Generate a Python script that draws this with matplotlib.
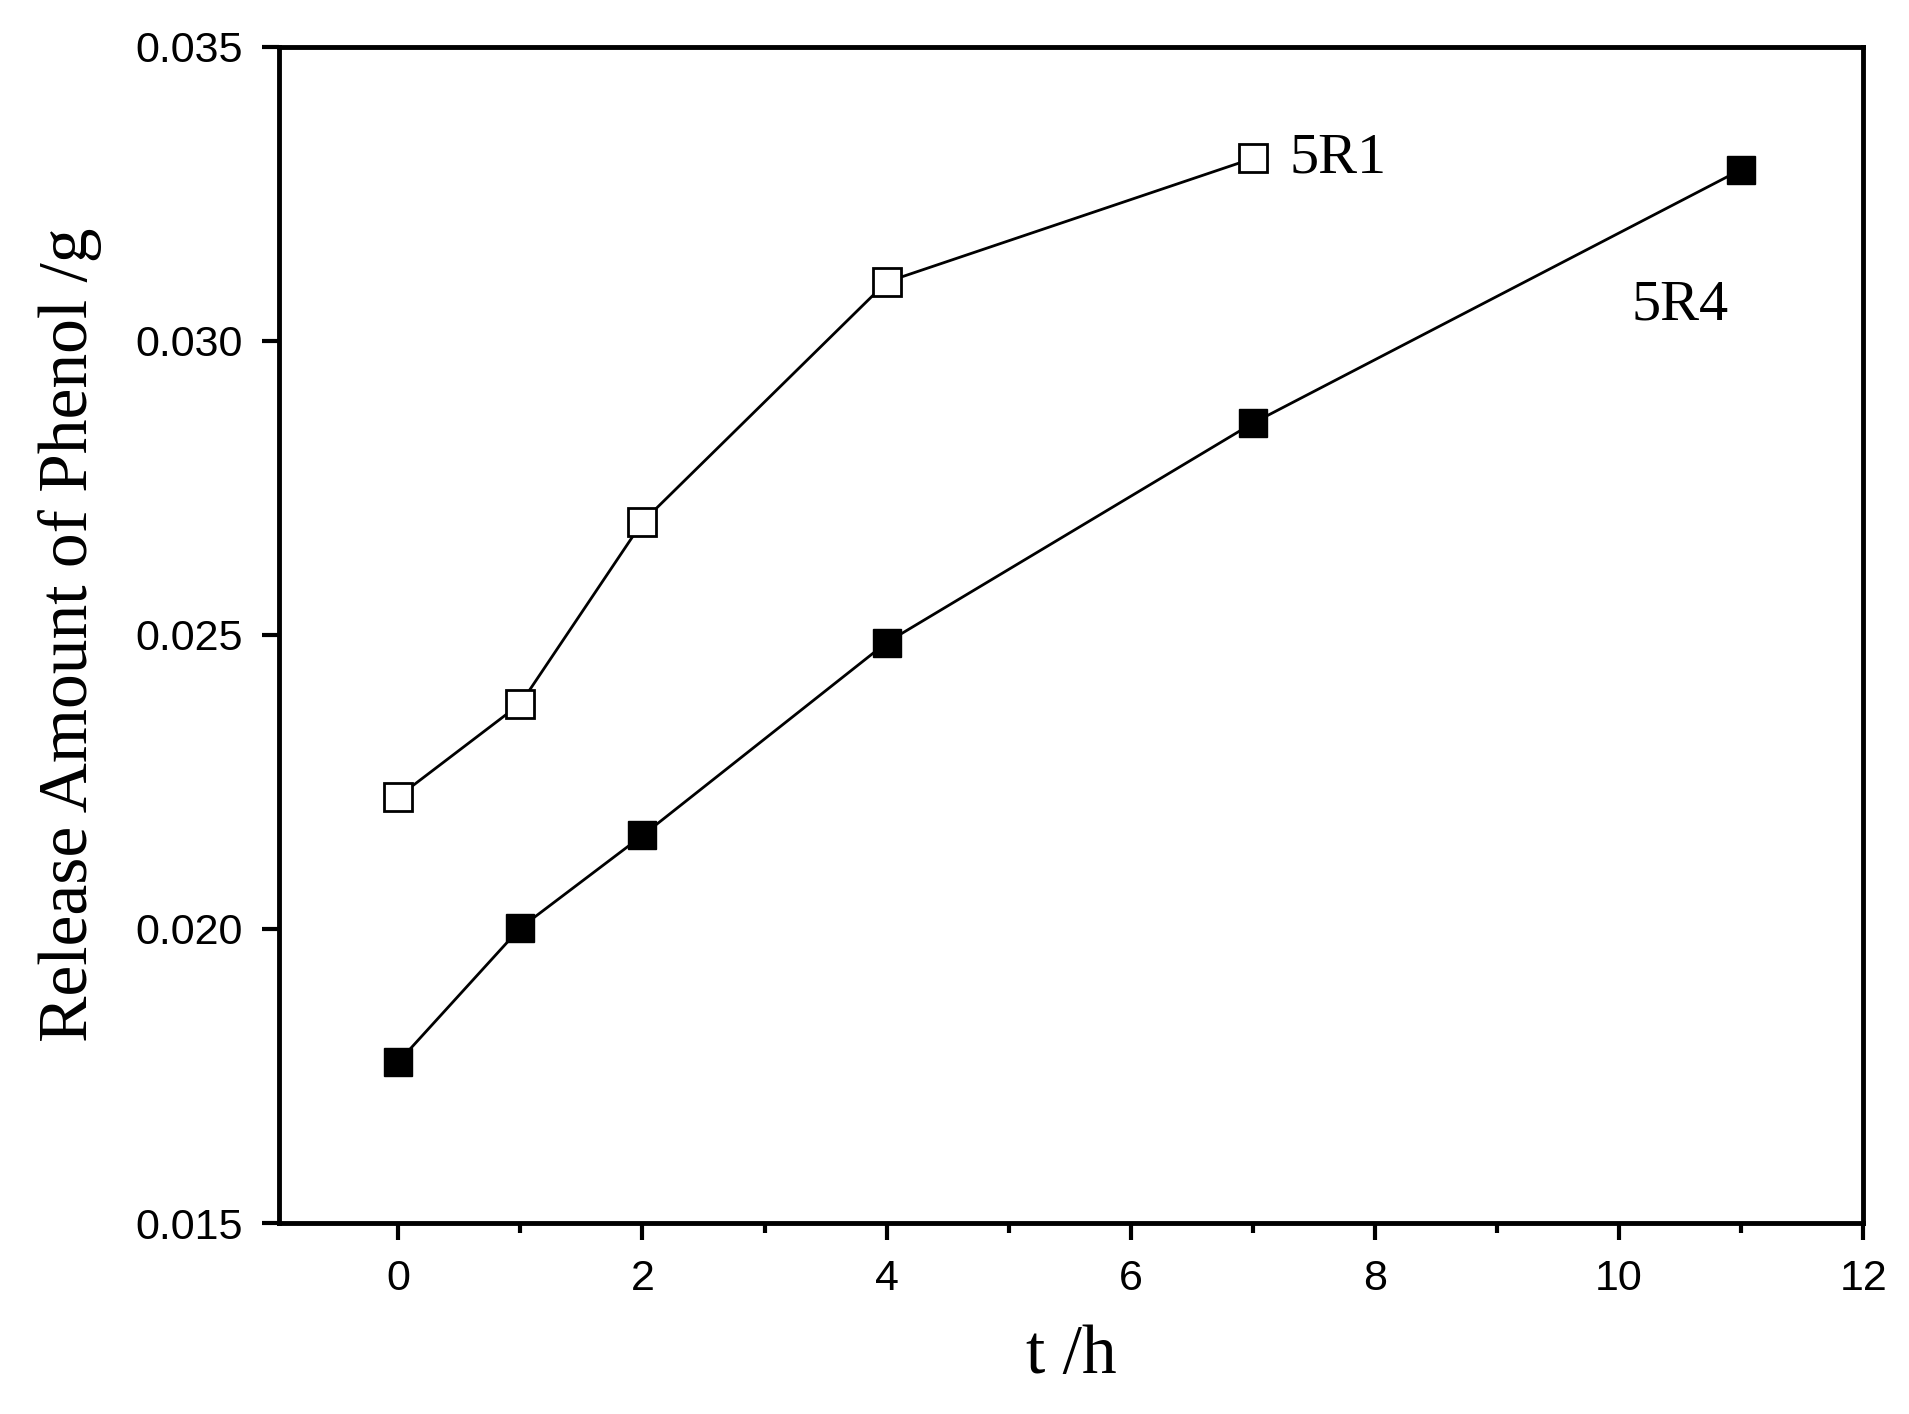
import matplotlib
matplotlib.use("Agg")
import matplotlib.pyplot as plt
from matplotlib.ticker import MultipleLocator

t_5r1 = [0, 1, 2, 4, 7]
y_5r1 = [0.02225, 0.02383, 0.02692, 0.0310, 0.0331]
t_5r4 = [0, 1, 2, 4, 7, 11]
y_5r4 = [0.01774, 0.02002, 0.02159, 0.02487, 0.02860, 0.03291]

fig = plt.figure(figsize=(19.09, 14.14), dpi=100)
ax = fig.add_axes([0.146, 0.135, 0.830, 0.832])
ax.plot(t_5r1, y_5r1, '-s', color='black', lw=2, ms=20, mfc='white', mec='black', mew=2)
ax.plot(t_5r4, y_5r4, '-s', color='black', lw=2, ms=20, mfc='black', mec='black')
ax.set_xlim(-0.98, 12)
ax.set_ylim(0.015, 0.035)
ax.xaxis.set_major_locator(MultipleLocator(2))
ax.xaxis.set_minor_locator(MultipleLocator(1))
ax.yaxis.set_major_locator(MultipleLocator(0.005))
ax.yaxis.set_major_formatter(matplotlib.ticker.FormatStrFormatter('%.3f'))
for s in ax.spines.values():
    s.set_linewidth(3.5)
ax.tick_params(which='major', direction='out', length=12, width=3, labelsize=31, pad=14)
ax.tick_params(which='minor', direction='out', length=7, width=3)
for lab in ax.get_xticklabels() + ax.get_yticklabels():
    lab.set_fontfamily('Liberation Sans')
ax.set_xlabel('t /h', fontsize=50, fontfamily='Liberation Serif', labelpad=18)
ax.set_ylabel('Release Amount of Phenol /g', fontsize=50, fontfamily='Liberation Serif', labelpad=24)
ax.text(7.3, 0.0331, '5R1', fontsize=42, fontfamily='Liberation Serif', va='center')
ax.text(10.1, 0.0306, '5R4', fontsize=42, fontfamily='Liberation Serif', va='center')
fig.savefig('out.png', dpi=100)
